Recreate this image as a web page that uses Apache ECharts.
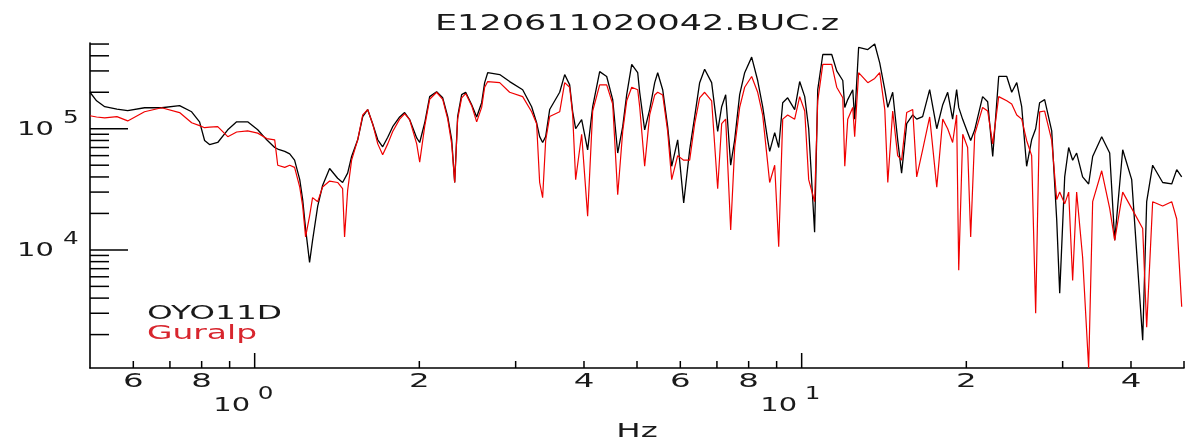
<!DOCTYPE html>
<html><head><meta charset="utf-8">
<script src="https://cdn.jsdelivr.net/npm/echarts@6/dist/echarts.min.js"></script>
<style>html,body{margin:0;padding:0;background:#fff}#c{width:1190px;height:448px}</style>
</head><body><div id="c"></div>
<script>
// ---------------- data ----------------
const titleText = 'E120611020042.BUC.z';
const xAxisName = 'Hz';
const seriesNames = ['OYO11D', 'Guralp'];

const freq = [
0.50,0.514,0.532,0.560,0.586,0.629,0.676,0.729,0.767,0.793,0.810,0.827,0.856,0.893,0.927,0.971,
1.013,1.052,1.088,1.102,1.135,1.159,1.183,1.209,1.224,1.239,1.260,1.276,1.304,1.331,1.371,1.418,
1.448,1.460,1.479,1.504,1.543,1.576,1.609,1.643,1.679,1.714,1.751,1.788,1.841,1.880,1.920,1.978,
2.003,2.046,2.089,2.151,2.207,2.254,2.292,2.321,2.350,2.390,2.431,2.493,2.546,2.600,2.633,2.667,
2.805,2.925,3.090,3.209,3.277,3.319,3.361,3.404,3.462,3.611,3.688,3.766,3.814,3.862,3.961,4.062,
4.149,4.273,4.401,4.514,4.610,4.708,4.788,4.890,5.015,5.057,5.164,5.274,5.387,5.455,5.571,5.689,
5.786,5.934,6.086,6.241,6.374,6.509,6.647,6.846,7.022,7.141,7.263,7.417,7.543,7.703,7.867,8.102,
8.310,8.486,8.667,8.740,8.927,9.079,9.233,9.428,9.710,9.917,10.13,10.30,10.56,10.70,10.93,11.35,
11.59,11.89,11.99,12.14,12.40,12.50,12.71,13.21,13.60,13.89,14.19,14.37,14.67,14.98,15.23,15.56,
15.96,16.23,16.64,17.14,17.66,18.11,18.49,18.88,19.20,19.37,19.70,20.11,20.37,20.72,21.42,21.88,
22.35,22.92,23.71,24.21,24.73,25.25,25.78,26.33,26.78,27.23,27.81,28.65,29.26,29.63,30.26,30.77,
31.29,31.82,32.63,33.47,34.04,35.36,36.57,37.35,38.63,40.12,42.02,42.73,43.82,45.71,47.48,48.49,
49.52
];

const oyo = [
2.0e5,1.7e5,1.52e5,1.45e5,1.41e5,1.49e5,1.49e5,1.55e5,1.38e5,1.14e5,8.0e4,7.4e4,7.7e4,9.8e4,1.14e5,1.14e5,
9.8e4,8.1e4,7.0e4,6.8e4,6.5e4,6.2e4,5.5e4,3.8e4,2.6e4,1.5e4,7.9e3,1.2e4,2.3e4,3.4e4,4.7e4,3.9e4,
3.6e4,3.5e4,4.3e4,5.9e4,8.1e4,1.26e5,1.44e5,1.1e5,8.1e4,7.1e4,8.5e4,1.04e5,1.25e5,1.36e5,1.19e5,8.4e4,
7.7e4,1.12e5,1.84e5,2.02e5,1.8e5,1.26e5,8.1e4,3.6e4,1.26e5,1.91e5,2.0e5,1.58e5,1.25e5,1.64e5,2.4e5,2.9e5,
2.8e5,2.45e5,2.1e5,1.52e5,1.12e5,8.6e4,7.7e4,8.6e4,1.44e5,2.0e5,2.8e5,2.3e5,1.38e5,1.0e5,1.19e5,6.7e4,
1.52e5,2.96e5,2.7e5,1.74e5,6.3e4,1.04e5,1.91e5,3.4e5,2.9e5,2.0e5,9.8e4,1.44e5,2.4e5,2.9e5,2.1e5,1.04e5,
4.9e4,8.1e4,2.44e4,6.7e4,1.26e5,2.4e5,3.1e5,2.4e5,9.5e4,1.52e5,1.91e5,5.0e4,8.1e4,1.91e5,2.9e5,3.9e5,
2.5e5,1.52e5,8.1e4,6.5e4,9.3e4,7.0e4,1.64e5,1.8e5,1.44e5,2.45e5,1.84e5,1.0e5,1.4e4,2.1e5,4.1e5,4.1e5,
3.0e5,2.5e5,1.5e5,1.74e5,2.1e5,1.2e5,4.7e5,4.5e5,5.0e5,3.5e5,2.1e5,1.5e5,2.0e5,8.1e4,4.3e4,1.1e5,
1.3e5,1.2e5,1.26e5,2.1e5,1.0e5,1.58e5,2.0e5,1.2e5,2.1e5,1.5e5,1.19e5,9.3e4,8.0e4,9.8e4,1.84e5,1.67e5,
5.9e4,2.7e5,2.7e5,2.0e5,2.4e5,1.52e5,4.9e4,8.1e4,1.0e5,1.64e5,1.74e5,9.6e4,1.77e4,4.4e3,4.0e4,7.0e4,
5.5e4,6.3e4,4.0e4,3.5e4,5.9e4,8.6e4,6.3e4,1.2e4,6.7e4,3.8e4,1.8e3,2.5e4,5.0e4,3.6e4,3.5e4,4.6e4,
4.0e4
];

const guralp = [
1.28e5,1.25e5,1.23e5,1.26e5,1.16e5,1.38e5,1.49e5,1.36e5,1.12e5,1.06e5,1.02e5,1.03e5,1.04e5,8.6e4,9.4e4,9.6e4,
9.2e4,8.3e4,8.1e4,5.0e4,4.8e4,5.0e4,4.8e4,3.3e4,2.3e4,1.28e4,1.9e4,2.7e4,2.5e4,3.3e4,3.7e4,3.6e4,
3.2e4,1.28e4,3.1e4,5.5e4,8.1e4,1.3e5,1.44e5,1.1e5,7.5e4,6.1e4,7.5e4,9.5e4,1.2e5,1.33e5,1.19e5,7.5e4,
5.3e4,1.05e5,1.75e5,2.0e5,1.75e5,1.2e5,7.5e4,3.6e4,1.2e5,1.8e5,1.95e5,1.55e5,1.14e5,1.5e5,2.2e5,2.45e5,
2.4e5,2.0e5,1.84e5,1.38e5,1.1e5,3.6e4,2.7e4,8.0e4,1.26e5,1.38e5,2.4e5,2.2e5,1.3e5,3.8e4,9.0e4,1.9e4,
1.4e5,2.3e5,2.3e5,1.6e5,2.85e4,9.5e4,1.7e5,2.2e5,2.1e5,1.52e5,4.9e4,1.3e5,1.9e5,2.0e5,1.9e5,9.5e4,
3.8e4,6.0e4,5.5e4,5.5e4,1.1e5,1.8e5,2.0e5,1.7e5,3.2e4,1.1e5,1.2e5,1.46e4,7.0e4,1.5e5,2.2e5,2.7e5,
2.0e5,1.3e5,5.2e4,3.6e4,5.0e4,1.06e4,1.2e5,1.3e5,1.2e5,1.84e5,1.4e5,3.8e4,2.5e4,1.7e5,3.4e5,3.4e5,
2.2e5,1.8e5,4.9e4,1.2e5,1.5e5,8.6e4,2.9e5,2.4e5,2.6e5,2.9e5,1.44e5,3.6e4,1.4e5,6.0e4,5.5e4,1.36e5,
1.44e5,4.0e4,6.7e4,1.25e5,3.3e4,1.2e5,1.0e5,7.7e4,1.3e5,6.8e3,9.0e4,7.0e4,1.28e4,9.0e4,1.5e5,1.4e5,
7.5e4,1.84e5,1.7e5,1.6e5,1.3e5,1.2e5,8.0e4,6.0e4,3.0e3,1.38e5,1.4e5,8.0e4,2.6e4,3.0e4,2.4e4,3.0e4,
5.6e3,3.0e4,8.7e3,1060,2.5e4,4.5e4,2.2e4,1.2e4,3.0e4,2.2e4,1.5e4,2.3e3,2.5e4,2.3e4,2.5e4,1.8e4,
3.4e3
];

// axis ranges and ticks
const xRange = [0.5, 50];
const yRange = [1060, 5.1e5];
const xMajorTicks = [1, 10];
const xMajorExp = ['0', '1'];
const xMinorTicks = [0.6, 0.7, 0.8, 0.9, 2, 3, 4, 5, 6, 7, 8, 9, 20, 30, 40, 50];
const xMinorLabelValues = [0.6, 0.8, 2, 4, 6, 8, 20, 40];
const xMinorLabelTexts = ['6', '8', '2', '4', '6', '8', '2', '4'];
const yMajorTicks = [1e4, 1e5];
const yMajorExp = ['4', '5'];
const yMinorTicks = [2e3, 3e3, 4e3, 5e3, 6e3, 7e3, 8e3, 9e3,
                     2e4, 3e4, 4e4, 5e4, 6e4, 7e4, 8e4, 9e4,
                     2e5, 3e5, 4e5, 5e5];

// ---------------- chart ----------------
const chart = echarts.init(document.getElementById('c'), null, {renderer: 'canvas'});
const axisCommon = {
  type: 'log', logBase: 10,
  axisLine: {show: true, onZero: false, lineStyle: {color: '#000', width: 1.6}},
  axisTick: {show: false}, axisLabel: {show: false}, splitLine: {show: false}
};
chart.setOption({
  animation: false,
  backgroundColor: '#fff',
  grid: {left: 90, right: 6, top: 43, bottom: 80},
  xAxis: Object.assign({}, axisCommon, {min: xRange[0], max: xRange[1]}),
  yAxis: Object.assign({}, axisCommon, {min: yRange[0], max: yRange[1]}),
  series: [
    {name: seriesNames[0], type: 'line', data: freq.map((f, i) => [f, oyo[i]]),
     showSymbol: false, symbol: 'none', z: 2,
     lineStyle: {color: '#000', width: 1.3}, itemStyle: {color: '#000'}},
    {name: seriesNames[1], type: 'line', data: freq.map((f, i) => [f, guralp[i]]),
     showSymbol: false, symbol: 'none', z: 3,
     lineStyle: {color: '#f00000', width: 1.2}, itemStyle: {color: '#f00000'}}
  ]
});

// ---------------- custom IDL-style ticks & labels ----------------
const FONT = '"DejaVu Sans", "Liberation Sans", sans-serif';
const STRETCH = 1.62;
const mctx = document.createElement('canvas').getContext('2d');
function measure(text, size) { mctx.font = size + 'px ' + FONT; return mctx.measureText(text).width; }
function txt(text, x, y, size, align, fill, scale) {
  return {type: 'text', x: x, y: y, scaleX: scale || STRETCH, scaleY: 1, originX: 0, originY: 0, silent: true,
          style: {text: text, font: size + 'px ' + FONT, fill: fill || '#1a1a1a', align: align, verticalAlign: 'middle'}};
}
function ln(x1, y1, x2, y2) {
  return {type: 'line', silent: true, shape: {x1: x1, y1: y1, x2: x2, y2: y2}, style: {stroke: '#000', lineWidth: 1.5}};
}
const P = (x, y) => chart.convertToPixel({gridIndex: 0}, [x, y]);
const g = [];
const origin = P(xRange[0], yRange[0]);
const axX = origin[0], axY = origin[1];
const topRight = P(xRange[1], yRange[1]);
const cx = (axX + topRight[0]) / 2;

yMajorTicks.forEach((v, i) => {
  const y = P(xRange[0], v)[1];
  g.push(ln(axX, y, axX + 38, y));
  g.push(txt('10', axX - 36, y + 1, 20, 'right', '#1a1a1a', 1.45));
  g.push(txt(yMajorExp[i], axX - 27, y - 10, 17, 'left', '#1a1a1a', 1.45));
});
yMinorTicks.forEach(v => { const y = P(xRange[0], v)[1]; g.push(ln(axX, y, axX + 19, y)); });
xMajorTicks.forEach((v, i) => {
  const x = P(v, yRange[0])[0];
  g.push(ln(x, axY, x, axY - 15));
  g.push(txt('10', x - 23, axY + 38, 20, 'center', '#1a1a1a', 1.45));
  g.push(txt(xMajorExp[i], x + 3, axY + 27, 17, 'left', '#1a1a1a', 1.45));
});
xMinorTicks.forEach(v => { const x = P(v, yRange[0])[0]; g.push(ln(x, axY, x, axY - 7)); });
xMinorLabelValues.forEach((v, i) => {
  const x = P(v, yRange[0])[0];
  g.push(txt(xMinorLabelTexts[i], x, axY + 14, 20, 'center'));
});
// title & axis name
g.push(txt(titleText, cx, 25, 21, 'center', '#1a1a1a', 404 / measure(titleText, 21)));
g.push(txt(xAxisName, cx, 432, 20, 'center'));
// legend text
g.push(txt(seriesNames[0], 147, 314, 19, 'left', '#1a1a1a', 135 / measure(seriesNames[0], 19)));
g.push(txt(seriesNames[1], 147, 334, 19, 'left', '#d8262e', 110 / measure(seriesNames[1], 19)));

chart.setOption({graphic: g});
</script>
</body></html>
